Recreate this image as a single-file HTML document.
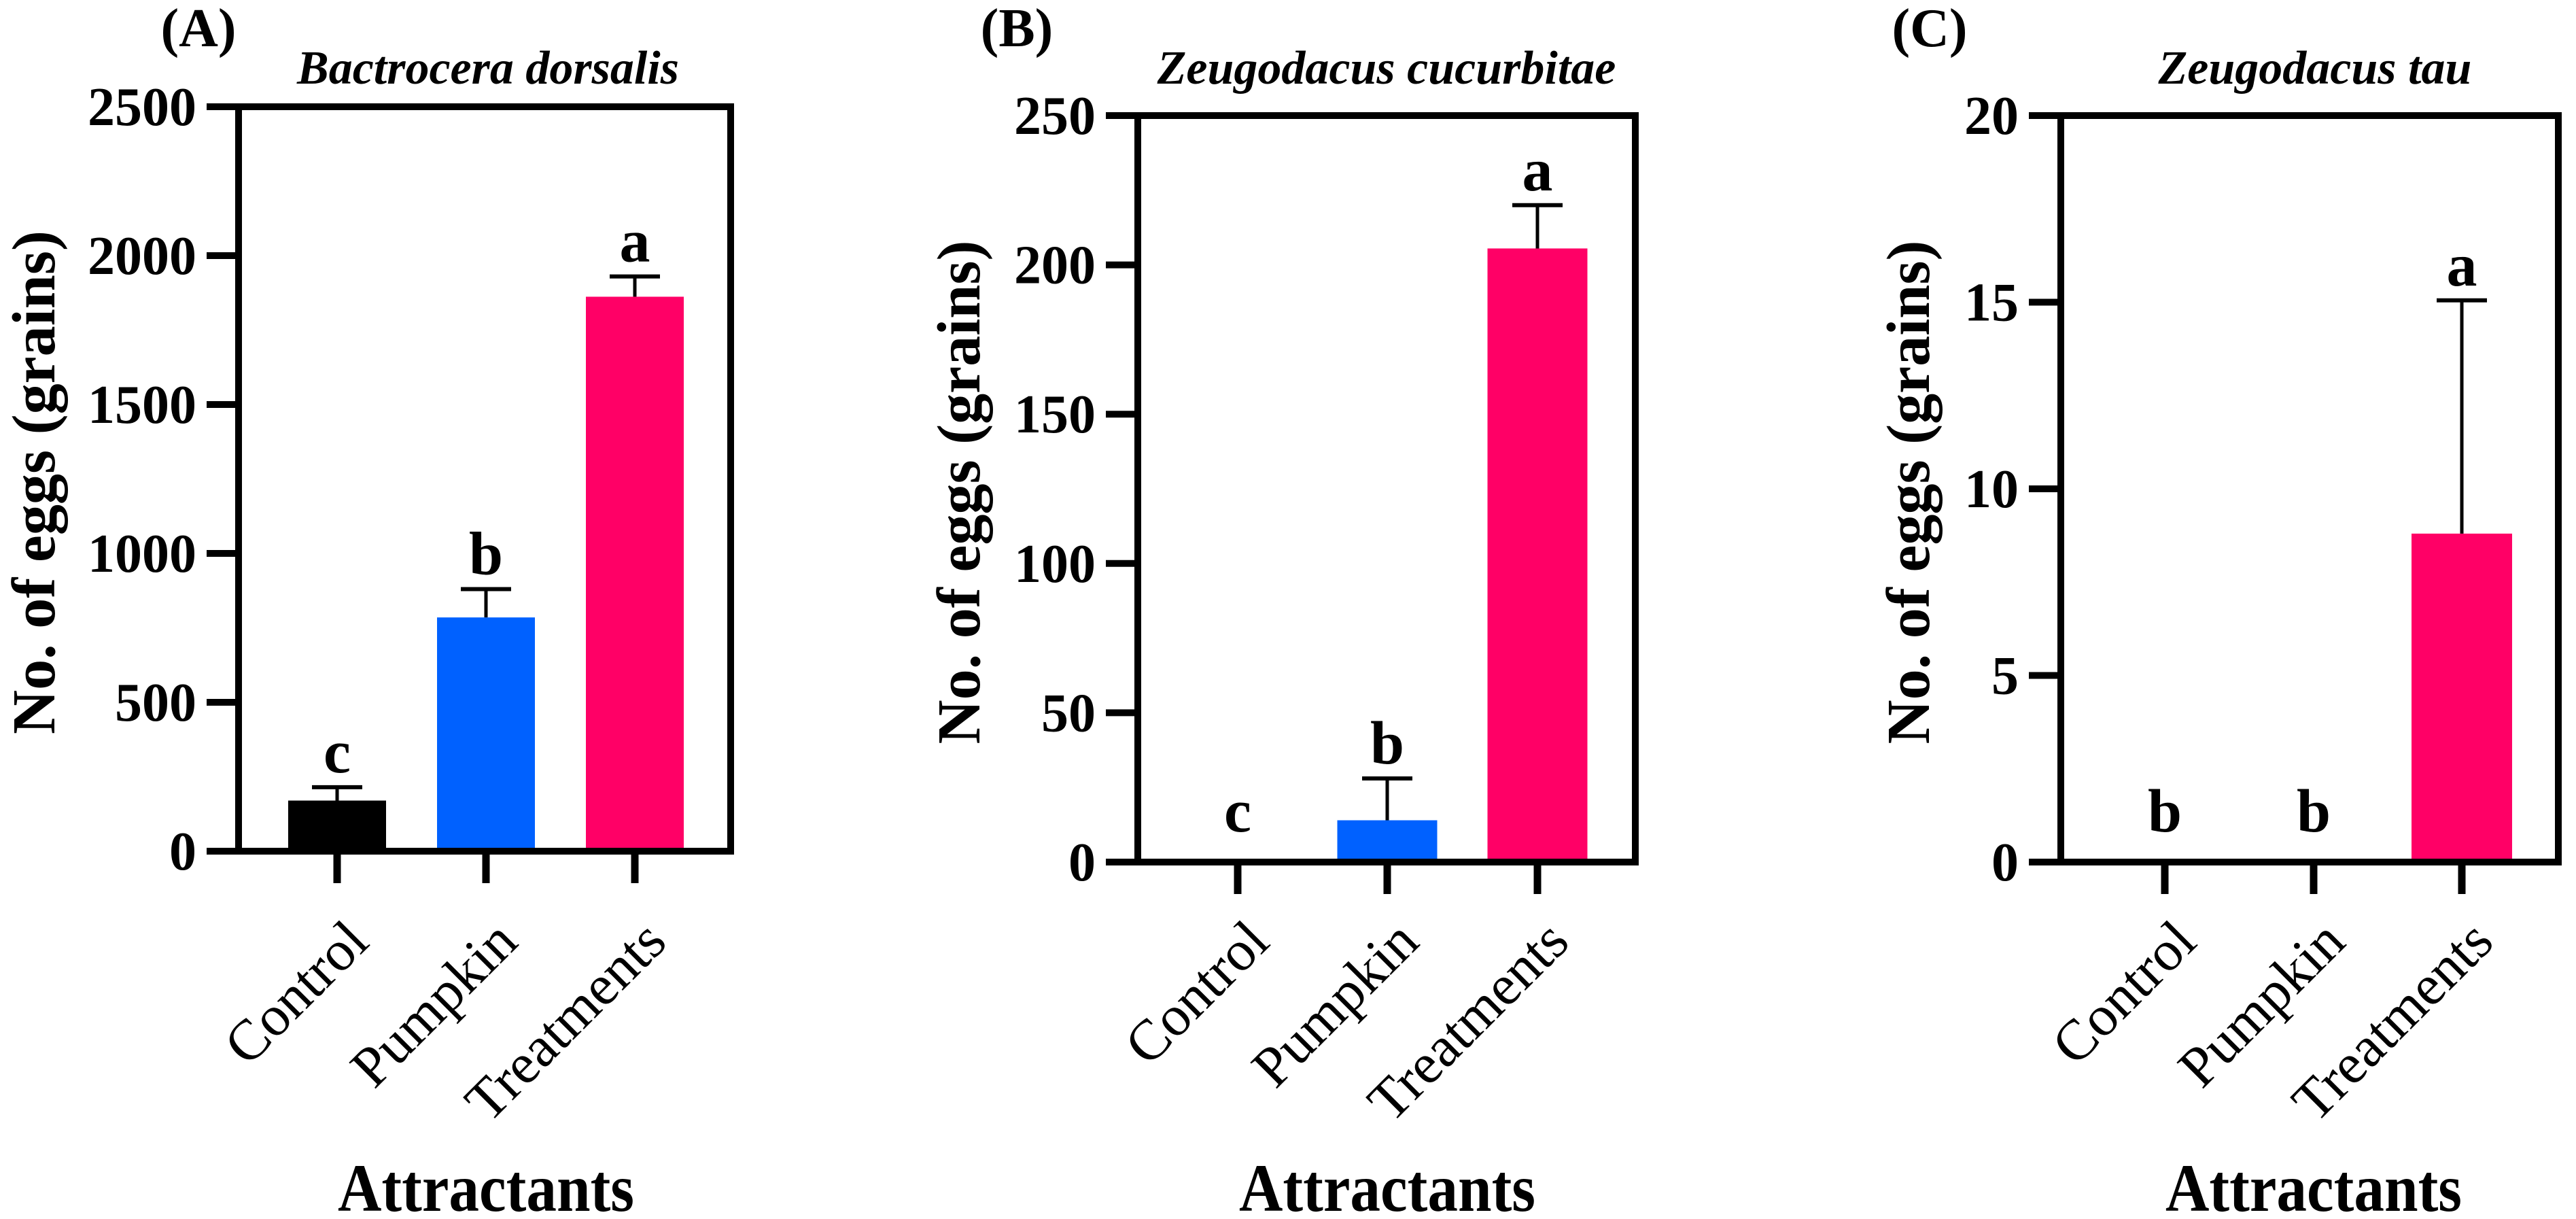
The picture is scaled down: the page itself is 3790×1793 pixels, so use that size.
<!DOCTYPE html>
<html><head><meta charset="utf-8">
<style>
html,body{margin:0;padding:0;background:#fff;}
svg{display:block;font-family:"Liberation Serif","Noto Serif CJK SC","DejaVu Serif",serif;}
svg text{font-family:"Liberation Serif","Noto Serif CJK SC","DejaVu Serif",serif;fill:#000;}
</style></head>
<body>
<svg id="fig" width="3790" height="1793" viewBox="0 0 3790 1793" xmlns="http://www.w3.org/2000/svg"></svg>
<script>
// ---- data ----
const categories = ["Control", "Pumpkin", "Treatments"];
const valuesA = [170, 785, 1862];
const errorsA = [45, 95, 68];
const lettersA = ["c", "b", "a"];
const ticksA = [0, 500, 1000, 1500, 2000, 2500];
const valuesB = [0, 14, 205.5];
const errorsB = [0, 14, 14.5];
const lettersB = ["c", "b", "a"];
const ticksB = [0, 50, 100, 150, 200, 250];
const valuesC = [0, 0, 8.8];
const errorsC = [0, 0, 6.25];
const lettersC = ["b", "b", "a"];
const ticksC = [0, 5, 10, 15, 20];
const barColors = ["#000000", "#0061ff", "#ff0066"];

const NS = "http://www.w3.org/2000/svg";
const FONT = "'Liberation Serif', 'Noto Serif CJK SC', 'DejaVu Serif', serif";
const svg = document.getElementById("fig");
function mk(tag, attrs, parent) {
  const e = document.createElementNS(NS, tag);
  for (const k in attrs) e.setAttribute(k, attrs[k]);
  if (tag === "text") e.setAttribute("style", "font-family:" + FONT);
  (parent || svg).appendChild(e);
  return e;
}

const panels = [
  {id:"a", tag:"(A)", species:"Bactrocera dorsalis", left:351, right:1075, top:157, bottom:1252, ymax:2500,
   xs:[496,715,934], barW:144, tagX:292, titleX:718, ytX:80,
   values:valuesA, errors:errorsA, letters:lettersA, ticks:ticksA},
  {id:"b", tag:"(B)", species:"Zeugodacus cucurbitae", left:1674, right:2406, top:170, bottom:1268, ymax:250,
   xs:[1821,2041,2262], barW:147, tagX:1496, titleX:2040, ytX:1441,
   values:valuesB, errors:errorsB, letters:lettersB, ticks:ticksB},
  {id:"c", tag:"(C)", species:"Zeugodacus tau", left:3032, right:3764, top:170, bottom:1268, ymax:20,
   xs:[3185,3404,3622], barW:148, tagX:2839, titleX:3406, ytX:2838,
   values:valuesC, errors:errorsC, letters:lettersC, ticks:ticksC}
];

panels.forEach(p => {
  const g = mk("g", {});
  
  
  const y = v => p.bottom - (v / p.ymax) * (p.bottom - p.top);

  p.values.forEach((v, i) => {
    if (v > 0) {
      const r = mk("rect", {x: p.xs[i] - p.barW/2, y: y(v), width: p.barW, height: p.bottom - y(v), fill: barColors[i]}, g);
      
      
    }
    if (p.errors[i] > 0) {
      const top = y(v + p.errors[i]);
      const eg = mk("g", {}, g);
      
      
      mk("line", {x1: p.xs[i], x2: p.xs[i], y1: y(v), y2: top, stroke: "#000", "stroke-width": 5}, eg);
      mk("line", {x1: p.xs[i] - 37, x2: p.xs[i] + 37, y1: top, y2: top, stroke: "#000", "stroke-width": 6}, eg);
    }
    const errTop = y(v + p.errors[i]);
    const ly = Math.min(errTop - 22, p.bottom - 45);
    const lt = mk("text", {x: p.xs[i], y: ly, "font-size": 90, "font-weight": "bold", "text-anchor": "middle"}, g);
    lt.textContent = p.letters[i];
    
    
  });

  const fr = mk("rect", {x: p.left, y: p.top, width: p.right - p.left, height: p.bottom - p.top, fill: "none", stroke: "#000", "stroke-width": 10}, g);
  
  

  p.ticks.forEach(t => {
    mk("line", {x1: p.left - 47, x2: p.left, y1: y(t), y2: y(t), stroke: "#000", "stroke-width": 10}, g);
    const tl = mk("text", {x: p.left - 62, y: y(t) + 27, "font-size": 80, "font-weight": "bold", "text-anchor": "end"}, g);
    tl.textContent = t;
    
    
  });

  categories.forEach((c, i) => {
    mk("line", {x1: p.xs[i], x2: p.xs[i], y1: p.bottom, y2: p.bottom + 47, stroke: "#000", "stroke-width": 11}, g);
    const bx = p.xs[i] + 50, by = 1389;
    const xl = mk("text", {x: bx, y: by, "font-size": 84, "text-anchor": "end", transform: `rotate(-45 ${bx} ${by})`}, g);
    xl.textContent = c;
    
    
  });

  const cy = (p.top + p.bottom) / 2 + 5;
  const yt = mk("text", {x: p.ytX, y: cy, "font-size": 90, "font-weight": "bold", "text-anchor": "middle", transform: `rotate(-90 ${p.ytX} ${cy})`, textLength: 741, lengthAdjust: "spacingAndGlyphs"}, g);
  yt.textContent = "No. of eggs (grains)";
  
  

  const xt = mk("text", {x: p.xs[1], y: 1781, "font-size": 100, "font-weight": "bold", "text-anchor": "middle", textLength: 436, lengthAdjust: "spacingAndGlyphs"}, g);
  xt.textContent = "Attractants";
  
  

  const tg = mk("text", {x: p.tagX, y: 68, "font-size": 80, "font-weight": "bold", "text-anchor": "middle"}, g);
  tg.textContent = p.tag;
  
  

  const st = mk("text", {x: p.titleX, y: 123, "font-size": 70, "font-weight": "bold", "font-style": "italic", "text-anchor": "middle"}, g);
  st.textContent = p.species;
  
  
});
</script>
</body></html>
